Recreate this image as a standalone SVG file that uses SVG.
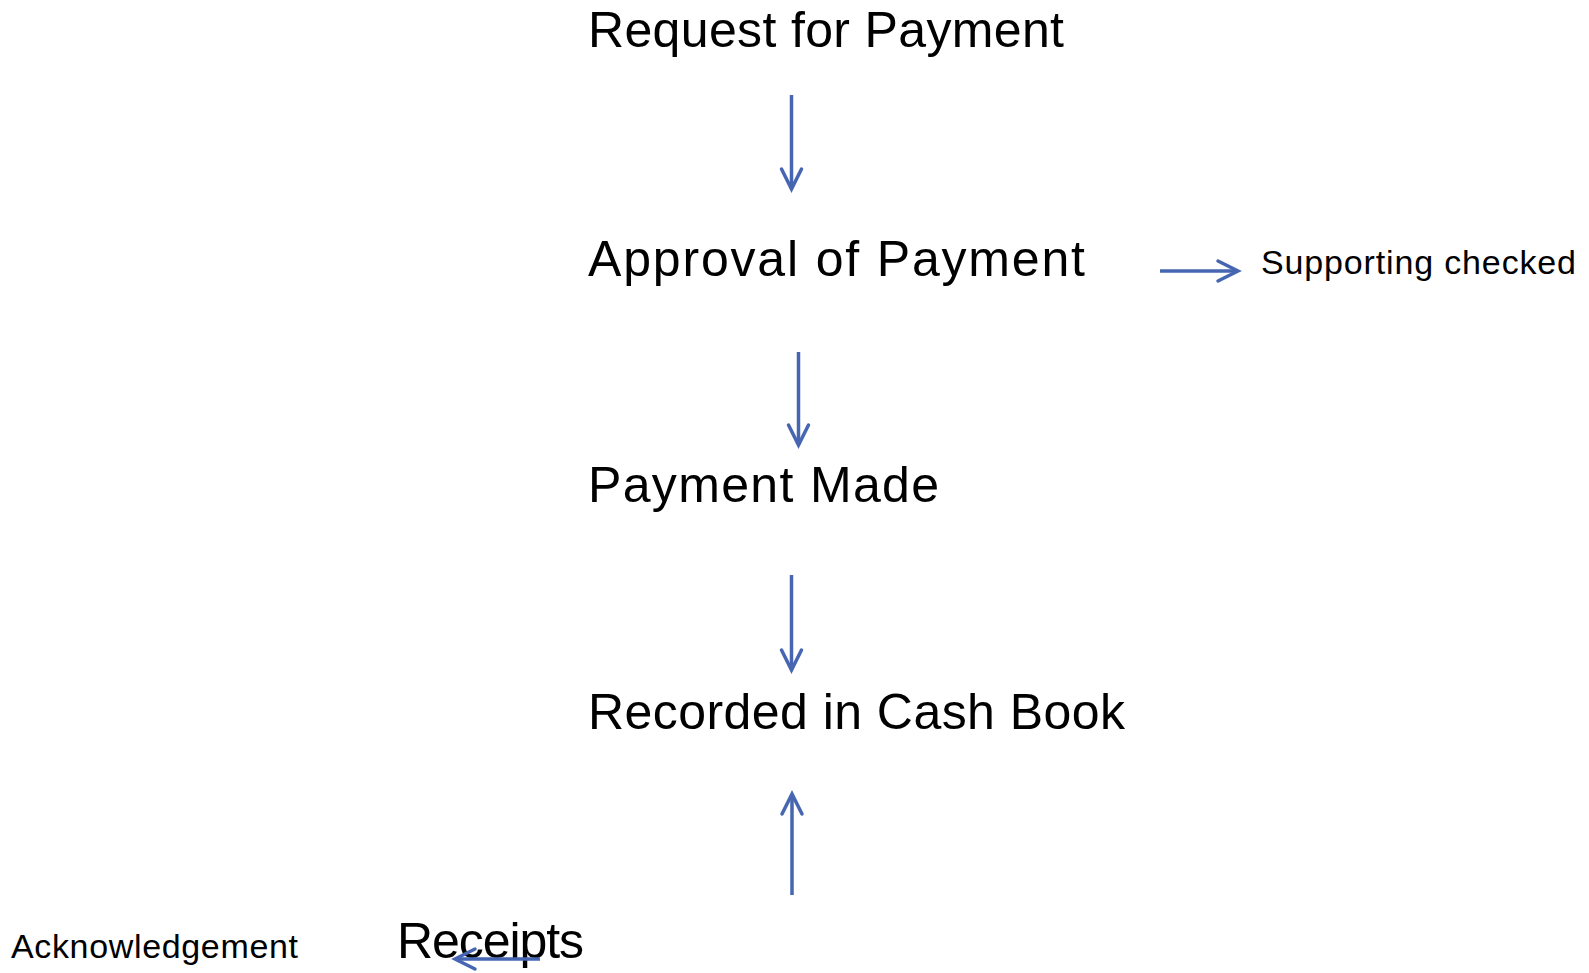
<svg xmlns="http://www.w3.org/2000/svg" width="1589" height="973" viewBox="0 0 1589 973">
<defs>
<style>
.lbl{font-family:"Liberation Sans",Arial,sans-serif;font-size:50px;fill:#000;}
.sm{font-family:"Liberation Sans",Arial,sans-serif;font-size:34px;fill:#000;}
.con{stroke:#4666B2;stroke-width:3.5;fill:none;marker-end:url(#ah);}
</style>
<marker id="ah" markerUnits="userSpaceOnUse" markerWidth="40" markerHeight="40" viewBox="-30 -20 40 40" refX="0" refY="0" orient="auto">
<path d="M-20,-10 L0,0 L-20,10" fill="none" stroke="#4666B2" stroke-width="3.5" stroke-linecap="round"/>
</marker>
</defs>
<rect width="1589" height="973" fill="#fff"/>
<g id="request"><text class="lbl" x="588" y="47" textLength="476">Request for Payment</text></g>
<g id="approval"><text class="lbl" x="588" y="276" textLength="497">Approval of Payment</text></g>
<g id="supporting"><text class="sm" x="1261" y="274" textLength="315">Supporting checked</text></g>
<g id="payment-made"><text class="lbl" x="588" y="502" textLength="351">Payment Made</text></g>
<g id="recorded"><text class="lbl" x="588" y="729" textLength="537">Recorded in Cash Book</text></g>
<g id="receipts"><text class="lbl" x="397" y="958" textLength="187">Receipts</text></g>
<g id="acknowledgement"><text class="sm" x="11" y="958" textLength="287">Acknowledgement</text></g>
<g id="connectors">
<line class="con" x1="791.5" y1="95" x2="791.5" y2="189"/>
<line class="con" x1="1160" y1="271" x2="1238" y2="271"/>
<line class="con" x1="798.5" y1="352" x2="798.5" y2="445"/>
<line class="con" x1="791.5" y1="575" x2="791.5" y2="670"/>
<line class="con" x1="792" y1="895" x2="792" y2="794"/>
<line class="con" x1="540" y1="959" x2="455" y2="959"/>
</g>
</svg>
